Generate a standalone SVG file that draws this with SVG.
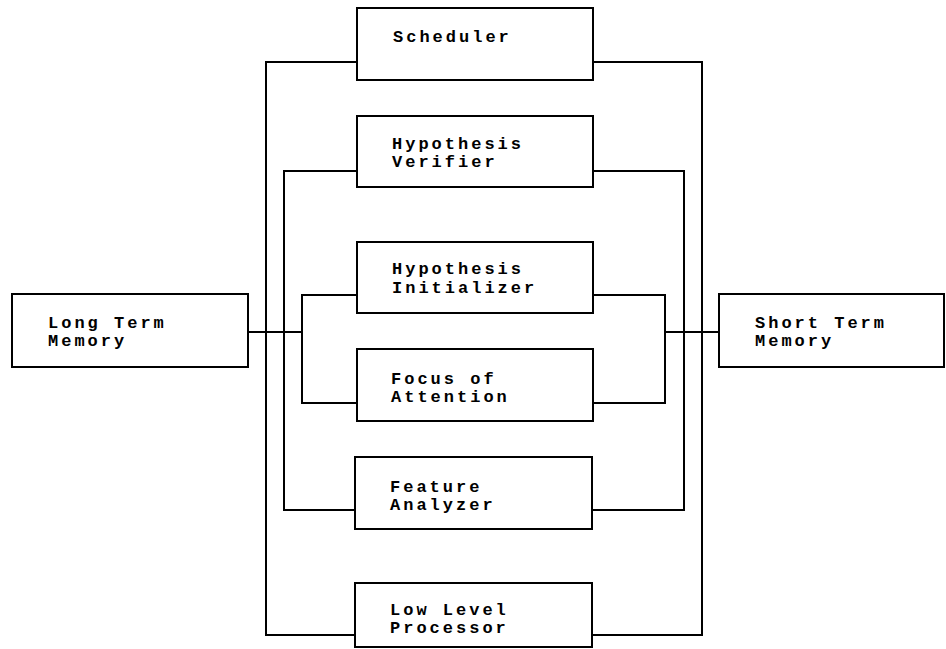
<svg xmlns="http://www.w3.org/2000/svg" width="946" height="649" viewBox="0 0 946 649">
  <style>
    .box { fill: #fff; stroke: #000; stroke-width: 2; }
    .wire { fill: none; stroke: #000; stroke-width: 2; }
    .lbl { font-family: "Liberation Mono", "DejaVu Sans Mono", monospace; font-weight: bold; font-size: 17px; letter-spacing: 3px; fill: #000; }
  </style>
  <rect width="946" height="649" fill="#fff"/>

  <!-- connectors -->
  <g id="connectors" class="wire">
    <!-- outer bus: Scheduler to Low Level Processor -->
    <polyline points="357,62 266,62 266,635 355,635"/>
    <polyline points="593,62 702,62 702,635 592,635"/>
    <!-- middle bus: Hypothesis Verifier to Feature Analyzer -->
    <polyline points="357,171 284,171 284,510 355,510"/>
    <polyline points="593,171 684,171 684,510 592,510"/>
    <!-- inner bus: Hypothesis Initializer to Focus of Attention -->
    <polyline points="357,295 302,295 302,403 357,403"/>
    <polyline points="593,295 665,295 665,403 593,403"/>
    <!-- memory links -->
    <line x1="248" y1="332" x2="302" y2="332"/>
    <line x1="665" y1="332" x2="719" y2="332"/>
  </g>

  <g id="scheduler">
    <rect class="box" x="357" y="8" width="236" height="72"/>
    <text class="lbl" x="393" y="42">Scheduler</text>
  </g>

  <g id="hypothesis-verifier">
    <rect class="box" x="357" y="116" width="236" height="71"/>
    <text class="lbl" x="392" y="149">Hypothesis</text>
    <text class="lbl" x="392" y="167">Verifier</text>
  </g>

  <g id="hypothesis-initializer">
    <rect class="box" x="357" y="242" width="236" height="71"/>
    <text class="lbl" x="392" y="274">Hypothesis</text>
    <text class="lbl" x="392" y="293">Initializer</text>
  </g>

  <g id="focus-of-attention">
    <rect class="box" x="357" y="349" width="236" height="72"/>
    <text class="lbl" x="391" y="384">Focus of</text>
    <text class="lbl" x="391" y="402">Attention</text>
  </g>

  <g id="feature-analyzer">
    <rect class="box" x="355" y="457" width="237" height="72"/>
    <text class="lbl" x="390" y="492">Feature</text>
    <text class="lbl" x="390" y="510">Analyzer</text>
  </g>

  <g id="low-level-processor">
    <rect class="box" x="355" y="583" width="237" height="64"/>
    <text class="lbl" x="390" y="615">Low Level</text>
    <text class="lbl" x="390" y="633">Processor</text>
  </g>

  <g id="long-term-memory">
    <rect class="box" x="12" y="294" width="236" height="73"/>
    <text class="lbl" x="48" y="328">Long Term</text>
    <text class="lbl" x="48" y="346">Memory</text>
  </g>

  <g id="short-term-memory">
    <rect class="box" x="719" y="294" width="225" height="73"/>
    <text class="lbl" x="755" y="328">Short Term</text>
    <text class="lbl" x="755" y="346">Memory</text>
  </g>
</svg>
